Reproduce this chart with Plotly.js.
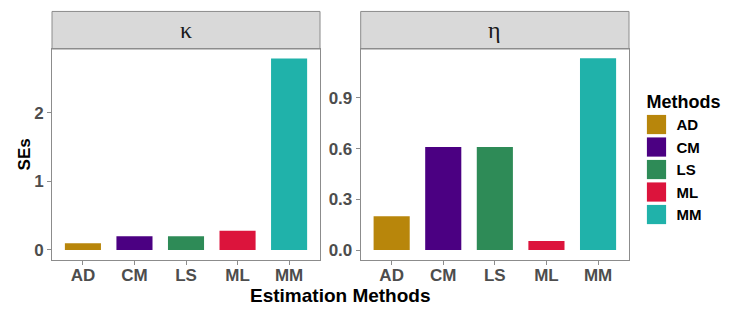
<!DOCTYPE html>
<html>
<head>
<meta charset="utf-8">
<script src="https://cdn.plot.ly/plotly-3.0.1.min.js"></script>
<style>html,body{margin:0;padding:0;background:#fff}#chart{width:741px;height:314px}</style>
</head>
<body>
<div id="chart"></div>
<script>
const methods = ["AD", "CM", "LS", "ML", "MM"];
const colors = ["#B8860B", "#4B0082", "#2E8B57", "#DC143C", "#20B2AA"];
const kappaSE = [0.10, 0.20, 0.20, 0.28, 2.79];
const etaSE = [0.20, 0.61, 0.61, 0.053, 1.135];
const panelLabels = ["\u03BA", "\u03B7"];
const yTicksKappa = [0, 1, 2];
const yTicksEta = [0, 0.3, 0.6, 0.9];

const FONT = "Liberation Sans, Arial, sans-serif";
const traces = [];
methods.forEach((m, i) => {
  traces.push({type: "bar", x: [m], y: [kappaSE[i]], name: m, legendgroup: m,
    marker: {color: colors[i], line: {width: 0}}, xaxis: "x", yaxis: "y", showlegend: true, hoverinfo: "skip"});
  traces.push({type: "bar", x: [m], y: [etaSE[i]], name: m, legendgroup: m,
    marker: {color: colors[i], line: {width: 0}}, xaxis: "x2", yaxis: "y2", showlegend: false, hoverinfo: "skip"});
});

const axisCommon = {
  showline: true, mirror: true, linecolor: "#8C8C8C", linewidth: 1,
  showgrid: false, zeroline: false, ticks: "outside", ticklen: 4, tickcolor: "#8C8C8C", tickwidth: 1,
  tickfont: {family: FONT, size: 17, color: "#4D4D4D", weight: "bold"}
};

const layout = {
  width: 741, height: 314,
  margin: {l: 52, r: 112, t: 49, b: 54},
  paper_bgcolor: "#fff", plot_bgcolor: "#fff",
  barmode: "relative", bargap: 0.3,
  showlegend: true,
  legend: {
    x: 1.013, y: 0.83, xanchor: "left", yanchor: "top",
    title: {text: "Methods", font: {family: FONT, size: 18, color: "#000", weight: "bold"}},
    font: {family: FONT, size: 15, color: "#000", weight: "bold"},
    tracegroupgap: 0, itemclick: false
  },
  xaxis: Object.assign({}, axisCommon, {domain: [0, 0.4645], type: "category", categoryarray: methods, range: [-0.6, 4.6], anchor: "y", ticklabelstandoff: -4}),
  yaxis: Object.assign({}, axisCommon, {range: [-0.146, 2.93], tickvals: yTicksKappa, ticktext: yTicksKappa.map(v => v.toFixed(0)), anchor: "x"}),
  xaxis2: Object.assign({}, axisCommon, {domain: [0.535, 1], type: "category", categoryarray: methods, range: [-0.6, 4.6], anchor: "y2", ticklabelstandoff: -4}),
  yaxis2: Object.assign({}, axisCommon, {range: [-0.059, 1.19], tickvals: yTicksEta, ticktext: yTicksEta.map(v => v.toFixed(1)), anchor: "x2"}),
  shapes: [
    {type: "rect", xref: "x domain", yref: "paper", x0: 0, x1: 1, y0: 1, y1: 1.178, fillcolor: "#D9D9D9", line: {color: "#8C8C8C", width: 1}, layer: "below"},
    {type: "rect", xref: "x2 domain", yref: "paper", x0: 0, x1: 1, y0: 1, y1: 1.178, fillcolor: "#D9D9D9", line: {color: "#8C8C8C", width: 1}, layer: "below"}
  ],
  annotations: [
    {text: panelLabels[0], xref: "x domain", yref: "paper", x: 0.5, y: 1.089, xanchor: "center", yanchor: "middle", showarrow: false,
      font: {family: "Liberation Serif, Times New Roman, serif", size: 24, color: "#1A1A1A"}},
    {text: panelLabels[1], xref: "x2 domain", yref: "paper", x: 0.5, y: 1.089, xanchor: "center", yanchor: "middle", showarrow: false,
      font: {family: "Liberation Serif, Times New Roman, serif", size: 24, color: "#1A1A1A"}},
    {text: "Estimation Methods", xref: "paper", yref: "paper", x: 0.5, y: -0.166, xanchor: "center", yanchor: "middle", showarrow: false,
      font: {family: FONT, size: 19, color: "#000", weight: "bold"}},
    {text: "SEs", xref: "paper", yref: "paper", x: -0.047, y: 0.5, xanchor: "center", yanchor: "middle", textangle: -90, showarrow: false,
      font: {family: FONT, size: 17, color: "#000", weight: "bold"}}
  ]
};

Plotly.newPlot("chart", traces, layout, {staticPlot: true, displayModeBar: false}).then(() => {
  document.querySelectorAll("#chart .legendpoints path").forEach(p => {
    p.setAttribute("transform", "translate(20,0) scale(1.6)");
  });
  document.querySelectorAll("#chart .legend [clip-path]").forEach(el => el.removeAttribute("clip-path"));
  document.querySelectorAll("#chart .legendtitletext").forEach(t => {
    t.setAttribute("transform", "translate(8,0)");
  });
});
</script>
</body>
</html>
